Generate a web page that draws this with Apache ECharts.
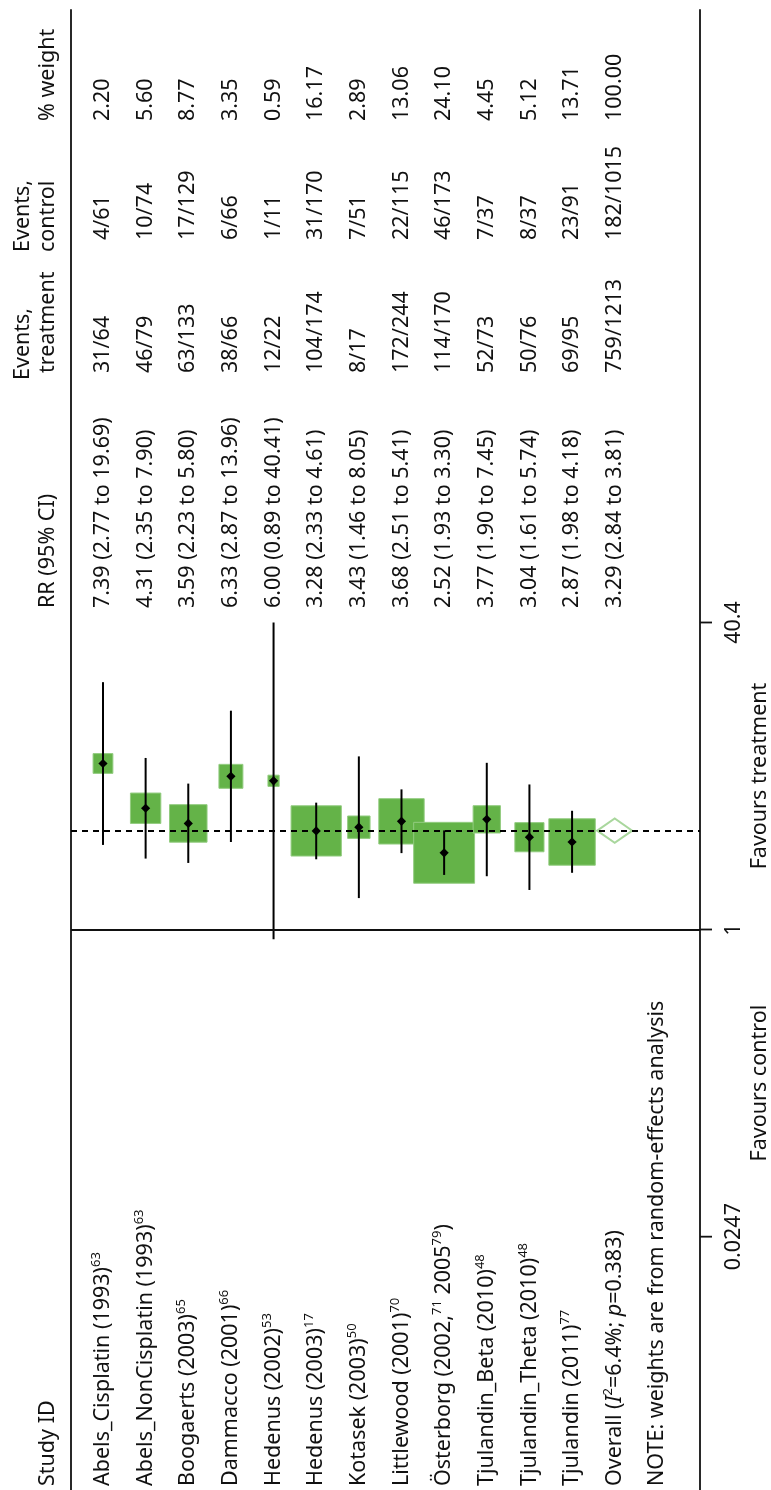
<!DOCTYPE html>
<html>
<head>
<meta charset="utf-8">
<script src="https://cdn.jsdelivr.net/npm/echarts@6/dist/echarts.min.js"></script>
<style>
  html, body { margin: 0; padding: 0; background: #fff; }
  #chart { width: 771px; height: 1490px; }
</style>
</head>
<body>
<div id="chart"></div>
<script>
// ---- data ----
const studyLabels = [
  'Abels_Cisplatin (1993){sup|63}',
  'Abels_NonCisplatin (1993){sup|63}',
  'Boogaerts (2003){sup|65}',
  'Dammacco (2001){sup|66}',
  'Hedenus (2002){sup|53}',
  'Hedenus (2003){sup|17}',
  'Kotasek (2003){sup|50}',
  'Littlewood (2001){sup|70}',
  'Österborg (2002,{sup|71} 2005{sup|79})',
  'Tjulandin_Beta (2010){sup|48}',
  'Tjulandin_Theta (2010){sup|48}',
  'Tjulandin (2011){sup|77}',
  'Overall ({it|I}{sup|2}=6.4%; {it|p}=0.383)'
];
const rr      = [7.39, 4.31, 3.59, 6.33, 6.00, 3.28, 3.43, 3.68, 2.52, 3.77, 3.04, 2.87, 3.29];
const ciLow   = [2.77, 2.35, 2.23, 2.87, 0.89, 2.33, 1.46, 2.51, 1.93, 1.90, 1.61, 1.98, 2.84];
const ciHigh  = [19.69, 7.90, 5.80, 13.96, 40.41, 4.61, 8.05, 5.41, 3.30, 7.45, 5.74, 4.18, 3.81];
const eventsTreatment = ['31/64', '46/79', '63/133', '38/66', '12/22', '104/174', '8/17',
                         '172/244', '114/170', '52/73', '50/76', '69/95', '759/1213'];
const eventsControl   = ['4/61', '10/74', '17/129', '6/66', '1/11', '31/170', '7/51',
                         '22/115', '46/173', '7/37', '8/37', '23/91', '182/1015'];
const weightPct = [2.20, 5.60, 8.77, 3.35, 0.59, 16.17, 2.89, 13.06, 24.10, 4.45, 5.12, 13.71, 100.00];
const tickValues = [0.0247, 1, 40.4];
const tickLabels = ['0.0247', '1', '40.4'];
const sideLabels = ['Favours control', 'Favours treatment'];
const noteText = 'NOTE: weights are from random-effects analysis';

const OVERALL = rr.length - 1;

// ---- layout (page is drawn turned: rows run left to right, RR runs upward) ----
const FONT = "'Noto Sans', 'Open Sans', sans-serif";
const FS = 21.5;
const INK = '#111';
const K = 83.0;            // pixels per natural-log unit of RR
const Y_ONE = 929.5;       // pixel row where RR = 1
const GRID_TOP = 10, PAGE_H = 1490;
const yMax = Math.exp((Y_ONE - GRID_TOP) / K);
const yMin = Math.exp((Y_ONE - PAGE_H) / K);

// text column start positions (text reads bottom-to-top)
const COL = { study: 1486, rr: 608, treat: 373, control: 240, weight: 121 };
const HEAD_ROW = -1.3, HEAD_ROW_TOP = -1.87, NOTE_ROW = 13;

const rich = {
  sup: { fontSize: 13, fontFamily: FONT, fill: INK, verticalAlign: 'top', lineHeight: 26 },
  it:  { fontSize: FS, fontFamily: FONT, fill: INK, fontStyle: 'italic', lineHeight: 26 }
};

function vText(x, y, text, align) {
  return {
    type: 'text', x: x, y: y, rotation: Math.PI / 2,
    style: {
      text: text, x: 0, y: 0, fill: INK, fontSize: FS, fontFamily: FONT,
      align: align || 'left', verticalAlign: 'middle', lineHeight: 26, rich: rich
    }
  };
}

const chart = echarts.init(document.getElementById('chart'));

const studyData = rr.map((v, i) => [i, v, ciLow[i], ciHigh[i], weightPct[i]]);

function renderStudy(params, api) {
  const i = api.value(0);
  const x = api.coord([i, 1])[0];
  const yEst = api.coord([i, api.value(1)])[1];
  const yLo = api.coord([i, api.value(2)])[1];
  const yHi = api.coord([i, api.value(3)])[1];
  if (i === OVERALL) {
    const half = 17.5;
    return {
      type: 'polygon',
      shape: { points: [[x - half, yEst], [x, yHi], [x + half, yEst], [x, yLo]] },
      style: { fill: 'none', stroke: '#a9d79d', lineWidth: 2 }
    };
  }
  const side = 12 * Math.sqrt(api.value(4)) + 2;
  const d = 4.6;
  return {
    type: 'group',
    children: [
      { type: 'rect', shape: { x: x - side / 2, y: yEst - side / 2, width: side, height: side },
        style: { fill: '#64b348', stroke: '#93cc80', lineWidth: 1 } },
      { type: 'line', shape: { x1: x, y1: yLo, x2: x, y2: yHi },
        style: { stroke: '#000', lineWidth: 2 } },
      { type: 'polygon', shape: { points: [[x - d, yEst], [x, yEst - d], [x + d, yEst], [x, yEst + d]] },
        style: { fill: '#000' } }
    ]
  };
}

function renderRow(params, api) {
  const i = api.value(0);
  const x = api.coord([i, 1])[0];
  if (i === NOTE_ROW) return vText(x, COL.study, noteText);
  return {
    type: 'group',
    children: [
      vText(x, COL.study, studyLabels[i]),
      vText(x, COL.rr, rr[i].toFixed(2) + ' (' + ciLow[i].toFixed(2) + ' to ' + ciHigh[i].toFixed(2) + ')'),
      vText(x, COL.treat, eventsTreatment[i]),
      vText(x, COL.control, eventsControl[i]),
      vText(x, COL.weight, weightPct[i].toFixed(2))
    ]
  };
}

function renderHeader(params, api) {
  const x = api.coord([HEAD_ROW, 1])[0];
  const xt = api.coord([HEAD_ROW_TOP, 1])[0];
  return {
    type: 'group',
    children: [
      vText(x, COL.study, 'Study ID'),
      vText(x, COL.rr, 'RR (95% CI)'),
      vText(xt, COL.treat + 7, 'Events,'),
      vText(x, COL.treat, 'treatment'),
      vText(xt, COL.control + 12, 'Events,'),
      vText(x, COL.control + 12, 'control'),
      vText(x, COL.weight, '% weight')
    ]
  };
}

function renderTicks(params, api) {
  const idx = params.dataIndex;
  const p = api.coord([api.value(0), api.value(1)]);
  return {
    type: 'group',
    children: [
      { type: 'line', shape: { x1: p[0], y1: p[1], x2: p[0] + 12, y2: p[1] },
        style: { stroke: INK, lineWidth: 1.8 } },
      vText(p[0] + 34, p[1], tickLabels[idx], 'center')
    ]
  };
}

function renderSides(params, api) {
  const idx = params.dataIndex;
  const p = api.coord([api.value(0), api.value(1)]);
  return vText(p[0] + 60, p[1], sideLabels[idx], 'center');
}

const xRight = 14;
const sideValues = [Math.sqrt(tickValues[0] * tickValues[1]), Math.sqrt(tickValues[1] * tickValues[2])];

chart.setOption({
  animation: false,
  backgroundColor: '#fff',
  grid: { left: 71, right: 71, top: GRID_TOP, bottom: 0, containLabel: false },
  xAxis: { type: 'value', min: -0.75, max: xRight, show: false },
  yAxis: [
    {
      type: 'log', min: yMin, max: yMax, position: 'right',
      axisLine: { show: true, onZero: false, lineStyle: { color: INK, width: 1.8 } },
      axisTick: { show: false }, axisLabel: { show: false }, splitLine: { show: false }
    },
    {
      type: 'value', position: 'left',
      axisLine: { show: true, onZero: false, lineStyle: { color: INK, width: 1.8 } },
      axisTick: { show: false }, axisLabel: { show: false }, splitLine: { show: false }
    }
  ],
  series: [
    {
      // reference lines: no effect (RR = 1) and the pooled estimate
      type: 'custom', yAxisIndex: 0, z: 1, silent: true,
      data: [], renderItem: () => null,
      markLine: {
        silent: true, symbol: 'none', label: { show: false },
        data: [
          { yAxis: 1, lineStyle: { color: INK, width: 1.8, type: 'solid' } },
          { yAxis: rr[OVERALL], lineStyle: { color: '#000', width: 2, type: [6, 5] } }
        ]
      }
    },
    {
      type: 'custom', yAxisIndex: 0, z: 3, clip: false, silent: true,
      data: studyData, encode: { x: 0, y: 1 }, renderItem: renderStudy
    },
    {
      type: 'custom', yAxisIndex: 0, z: 4, clip: false, silent: true,
      data: studyLabels.map((s, i) => [i, 1]).concat([[NOTE_ROW, 1]]),
      encode: { x: 0, y: 1 }, renderItem: renderRow
    },
    {
      type: 'custom', yAxisIndex: 0, z: 4, clip: false, silent: true,
      data: [[HEAD_ROW, 1]], encode: { x: 0, y: 1 }, renderItem: renderHeader
    },
    {
      type: 'custom', yAxisIndex: 0, z: 4, clip: false, silent: true,
      data: tickValues.map(v => [xRight, v]), encode: { x: 0, y: 1 }, renderItem: renderTicks
    },
    {
      type: 'custom', yAxisIndex: 0, z: 4, clip: false, silent: true,
      data: sideValues.map(v => [xRight, v]), encode: { x: 0, y: 1 }, renderItem: renderSides
    }
  ]
});
</script>
</body>
</html>
